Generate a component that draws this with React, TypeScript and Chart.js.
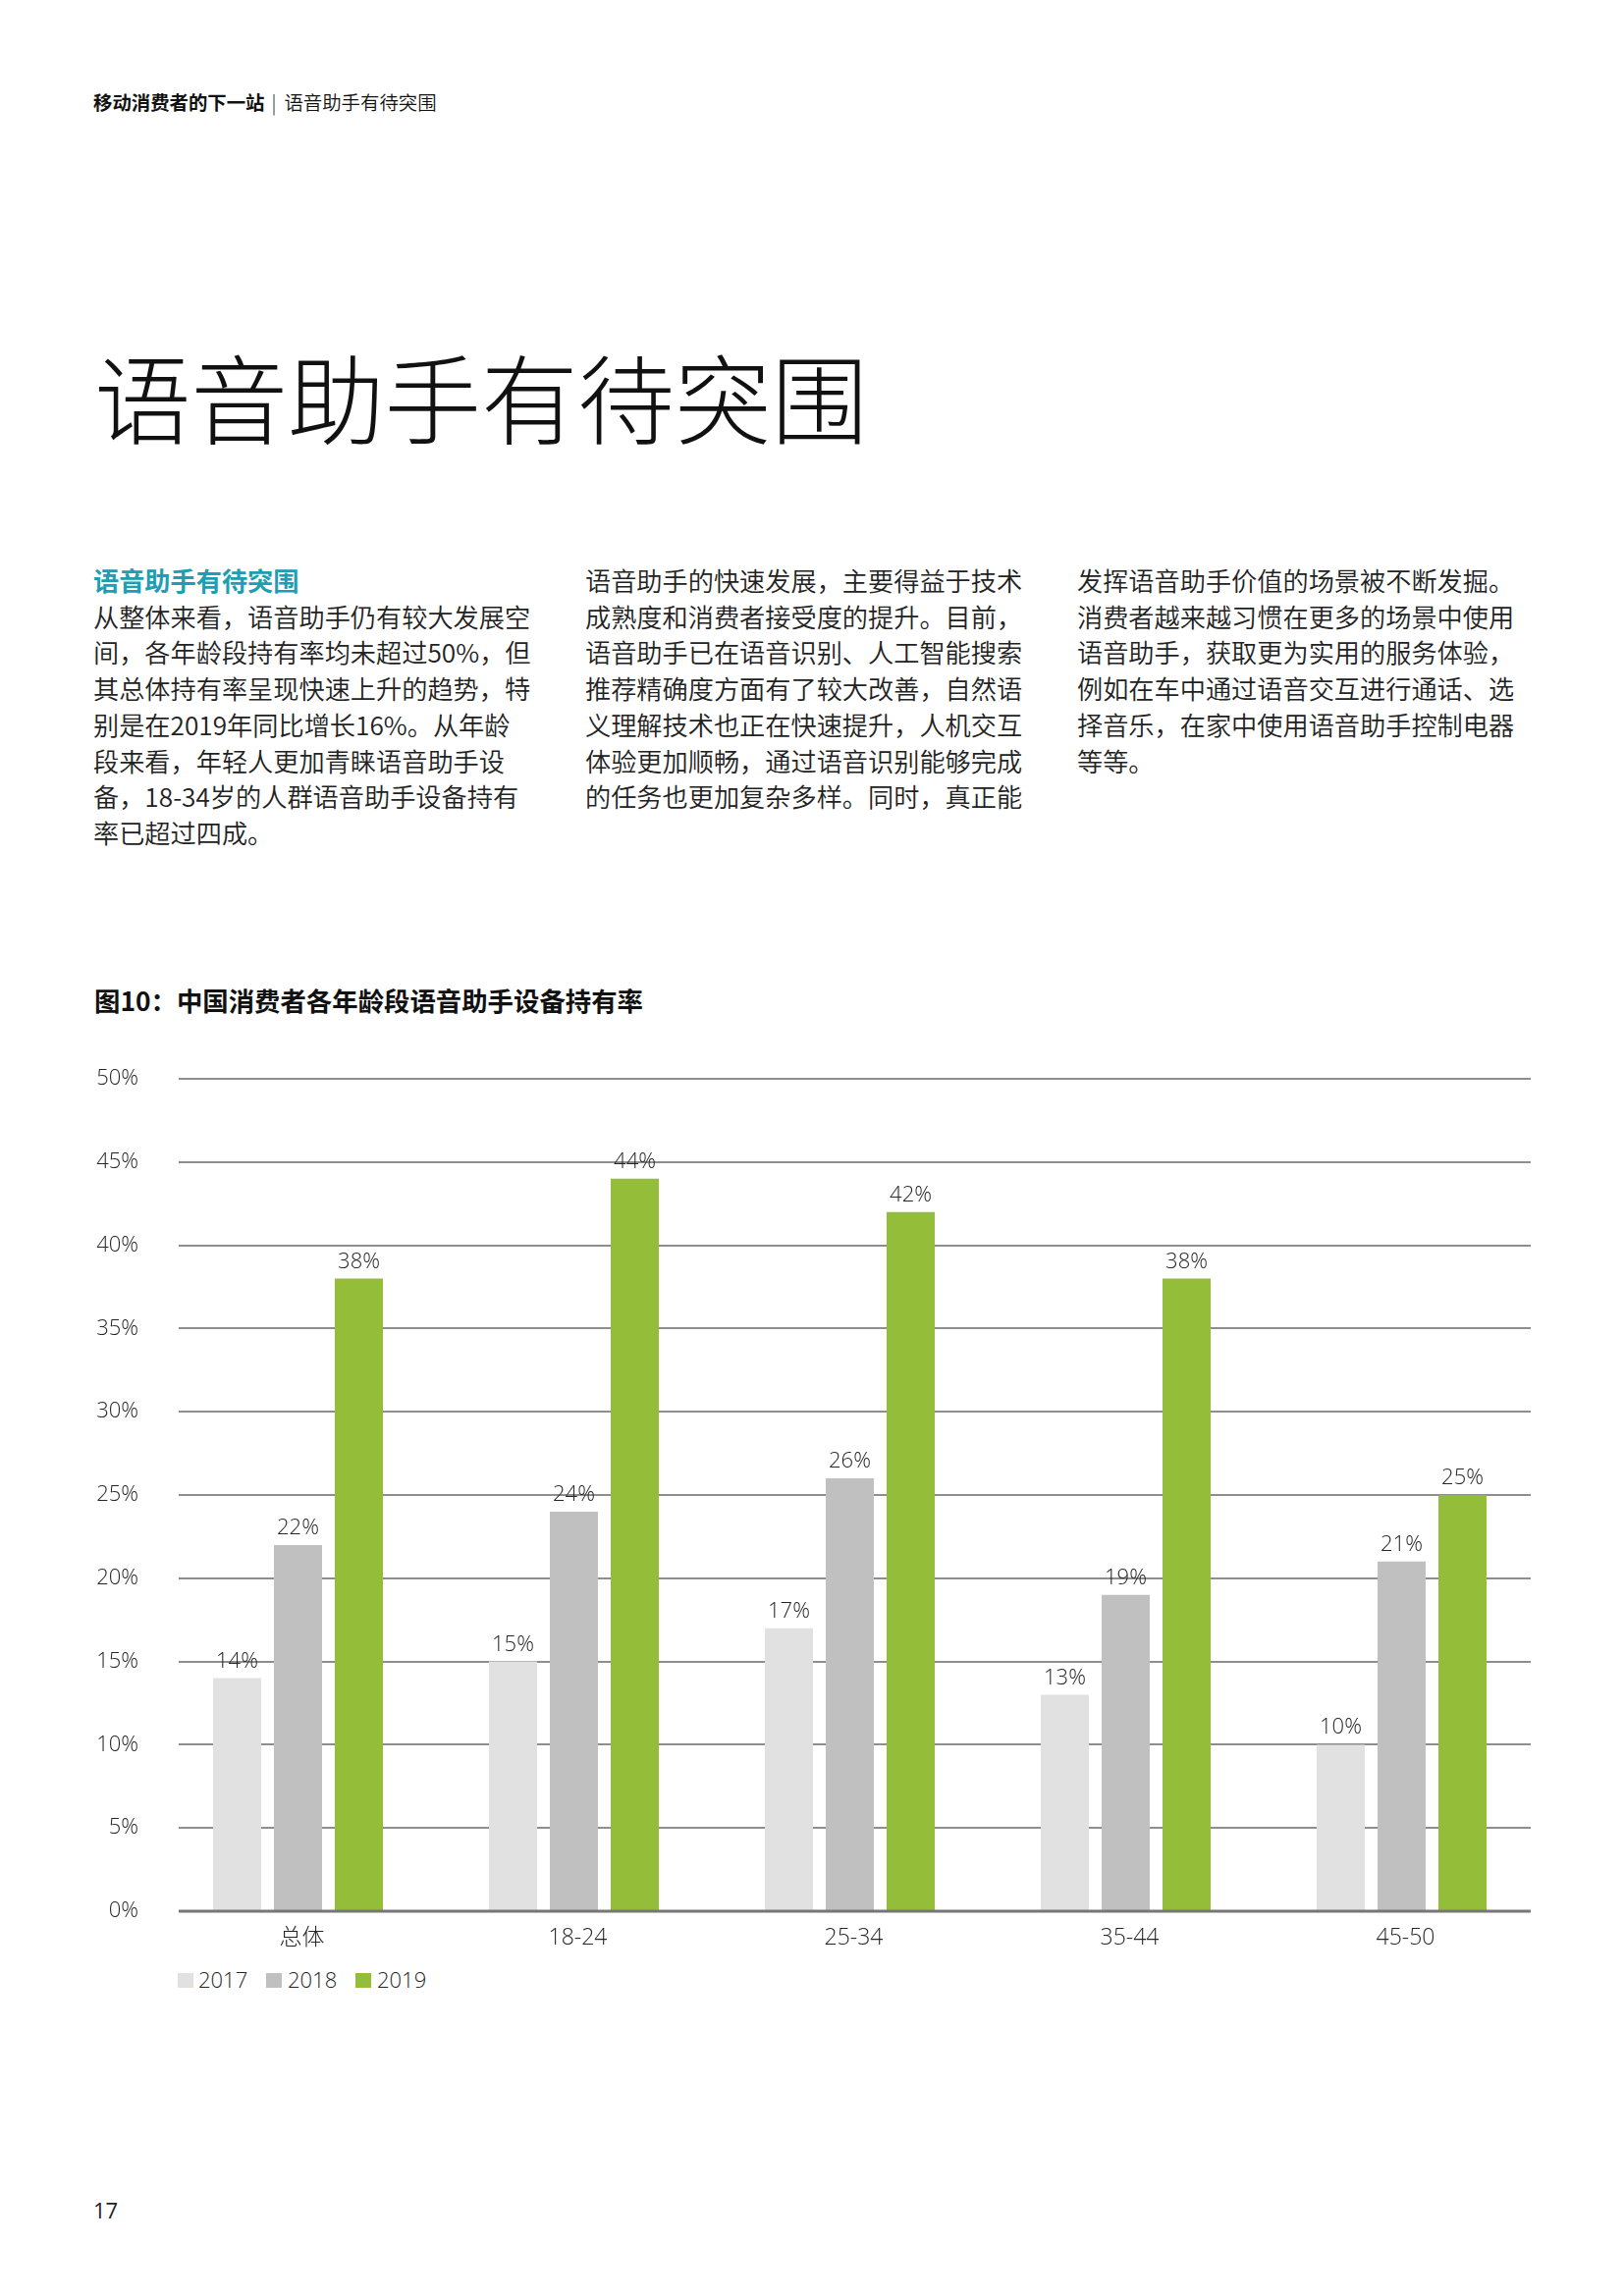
import React, { useEffect, useRef } from "react";
import { Chart, registerables } from "chart.js";

Chart.register(...registerables);

const categories = ["总体", "18-24", "25-34", "35-44", "45-50"];
const seriesLabels = ["2017", "2018", "2019"];
const values2017 = [14, 15, 17, 13, 10];
const values2018 = [22, 24, 26, 19, 21];
const values2019 = [38, 44, 42, 38, 25];
const seriesColors = ["#e1e1e1", "#c0c0c0", "#94bd3a"];
const yMax = 50;
const yStep = 5;

const col1 = [
  "从整体来看，语音助手仍有较大发展空",
  "间，各年龄段持有率均未超过50%，但",
  "其总体持有率呈现快速上升的趋势，特",
  "别是在2019年同比增长16%。从年龄",
  "段来看，年轻人更加青睐语音助手设",
  "备，18-34岁的人群语音助手设备持有",
  "率已超过四成。",
];
const col2 = [
  "语音助手的快速发展，主要得益于技术",
  "成熟度和消费者接受度的提升。目前，",
  "语音助手已在语音识别、人工智能搜索",
  "推荐精确度方面有了较大改善，自然语",
  "义理解技术也正在快速提升，人机交互",
  "体验更加顺畅，通过语音识别能够完成",
  "的任务也更加复杂多样。同时，真正能",
];
const col3 = [
  "发挥语音助手价值的场景被不断发掘。",
  "消费者越来越习惯在更多的场景中使用",
  "语音助手，获取更为实用的服务体验，",
  "例如在车中通过语音交互进行通话、选",
  "择音乐，在家中使用语音助手控制电器",
  "等等。",
];

const CHART_FONT = "'Open Sans', 'Noto Sans CJK SC', sans-serif";
const CJK_FONT = "'Noto Sans CJK SC', 'Noto Sans', sans-serif";

const gridPlugin = {
  id: "customGrid",
  beforeDatasetsDraw(chart: any) {
    const { ctx, chartArea } = chart;
    const y = chart.scales.y;
    ctx.save();
    ctx.strokeStyle = "#8e8e8e";
    ctx.lineWidth = 2;
    y.ticks.forEach((t: any) => {
      if (t.value === 0) return;
      const py = Math.round(y.getPixelForValue(t.value));
      ctx.beginPath();
      ctx.moveTo(chartArea.left + 19, py);
      ctx.lineTo(chartArea.right - 9, py);
      ctx.stroke();
    });
    ctx.restore();
  },
  afterDatasetsDraw(chart: any) {
    const { ctx, chartArea } = chart;
    const y = chart.scales.y;
    ctx.save();
    const py0 = y.getPixelForValue(0);
    ctx.strokeStyle = "#767676";
    ctx.lineWidth = 3;
    ctx.beginPath();
    ctx.moveTo(chartArea.left + 19, py0);
    ctx.lineTo(chartArea.right - 9, py0);
    ctx.stroke();
    ctx.fillStyle = "#262626";
    ctx.font = `300 22px ${CHART_FONT}`;
    ctx.textAlign = "center";
    ctx.textBaseline = "alphabetic";
    chart.data.datasets.forEach((ds: any, i: number) => {
      const meta = chart.getDatasetMeta(i);
      meta.data.forEach((el: any, j: number) => {
        ctx.fillText(`${ds.data[j]}%`, el.x, el.y - 11);
      });
    });
    ctx.restore();
  },
};

function BarChart() {
  const ref = useRef<HTMLCanvasElement | null>(null);
  useEffect(() => {
    if (!ref.current) return;
    const chart = new Chart(ref.current, {
      type: "bar",
      data: {
        labels: categories,
        datasets: [values2017, values2018, values2019].map((d, i) => ({
          label: seriesLabels[i],
          data: d,
          backgroundColor: seriesColors[i],
          borderWidth: 0,
          categoryPercentage: 0.662,
          barPercentage: 0.79,
        })),
      },
      options: {
        animation: false,
        responsive: false,
        devicePixelRatio: 1,
        layout: { padding: { top: 39, right: 86, left: 0, bottom: 0 } },
        plugins: {
          legend: { display: false },
          tooltip: { enabled: false },
        },
        scales: {
          x: {
            grid: { display: false, drawTicks: false },
            border: { display: false },
            ticks: {
              color: "#262626",
              font: { family: CHART_FONT, size: 23, weight: "300" as any },
              padding: 14,
              labelOffset: 4,
            },
            afterFit: (s: any) => {
              s.height = 53;
            },
          },
          y: {
            min: 0,
            max: yMax,
            grid: { display: false, drawTicks: false },
            border: { display: false },
            ticks: {
              stepSize: yStep,
              color: "#262626",
              font: { family: CHART_FONT, size: 22, weight: "300" as any },
              padding: 22,
              callback: (v: any) => `${v}%`,
            },
            afterFit: (s: any) => {
              s.width = 163;
            },
          },
        },
      },
      plugins: [gridPlugin],
    });
    return () => chart.destroy();
  }, []);
  return (
    <canvas
      ref={ref}
      width={1654}
      height={940}
      style={{ position: "absolute", left: 0, top: 1060, width: 1654, height: 940 }}
    />
  );
}

const colStyle = (left: number): React.CSSProperties => ({
  position: "absolute",
  left,
  top: 573,
  width: 470,
  fontFamily: CJK_FONT,
  fontSize: 26.2,
  fontWeight: 350,
  lineHeight: "36.7px",
  color: "#222222",
  whiteSpace: "nowrap",
});

export default function App() {
  return (
    <div
      style={{
        position: "absolute",
        left: 0,
        top: 0,
        width: 1654,
        height: 2339,
        background: "#ffffff",
        overflow: "hidden",
      }}
    >
      <div
        style={{
          position: "absolute",
          left: 95,
          top: 93,
          fontFamily: CJK_FONT,
          fontSize: 19.4,
          lineHeight: "22px",
          color: "#111",
          whiteSpace: "nowrap",
        }}
      >
        <span style={{ fontWeight: 700 }}>移动消费者的下一站</span>
        <span style={{ margin: "0 8px 0 7px", fontWeight: 300 }}>|</span>
        <span style={{ fontWeight: 350 }}>语音助手有待突围</span>
      </div>
      <div
        style={{
          position: "absolute",
          left: 96,
          top: 353,
          fontFamily: CJK_FONT,
          fontSize: 98.5,
          fontWeight: 300,
          lineHeight: 1,
          color: "#111",
          whiteSpace: "nowrap",
        }}
      >
        语音助手有待突围
      </div>
      <div style={colStyle(95)}>
        <div style={{ color: "#1e9db3", fontWeight: 700 }}>语音助手有待突围</div>
        {col1.map((l, i) => (
          <div key={i}>{l}</div>
        ))}
      </div>
      <div style={colStyle(596)}>
        {col2.map((l, i) => (
          <div key={i}>{l}</div>
        ))}
      </div>
      <div style={colStyle(1097)}>
        {col3.map((l, i) => (
          <div key={i}>{l}</div>
        ))}
      </div>
      <div
        style={{
          position: "absolute",
          left: 96,
          top: 1005,
          fontFamily: CJK_FONT,
          fontSize: 26.4,
          fontWeight: 700,
          lineHeight: "28px",
          color: "#111",
          whiteSpace: "nowrap",
        }}
      >
        图10：中国消费者各年龄段语音助手设备持有率
      </div>
      <BarChart />
      {seriesLabels.map((s, i) => (
        <React.Fragment key={s}>
          <div
            style={{
              position: "absolute",
              left: [181, 271, 362][i],
              top: 2010,
              width: 16,
              height: 15,
              background: seriesColors[i],
            }}
          />
          <div
            style={{
              position: "absolute",
              left: [202, 293, 384][i],
              top: 2005,
              fontFamily: CHART_FONT,
              fontWeight: 300,
              fontSize: 22,
              lineHeight: "22px",
              color: "#262626",
            }}
          >
            {s}
          </div>
        </React.Fragment>
      ))}
      <div
        style={{
          position: "absolute",
          left: 95,
          top: 2240,
          fontFamily: CHART_FONT,
          fontSize: 22,
          lineHeight: "22px",
          color: "#222",
        }}
      >
        17
      </div>
    </div>
  );
}
